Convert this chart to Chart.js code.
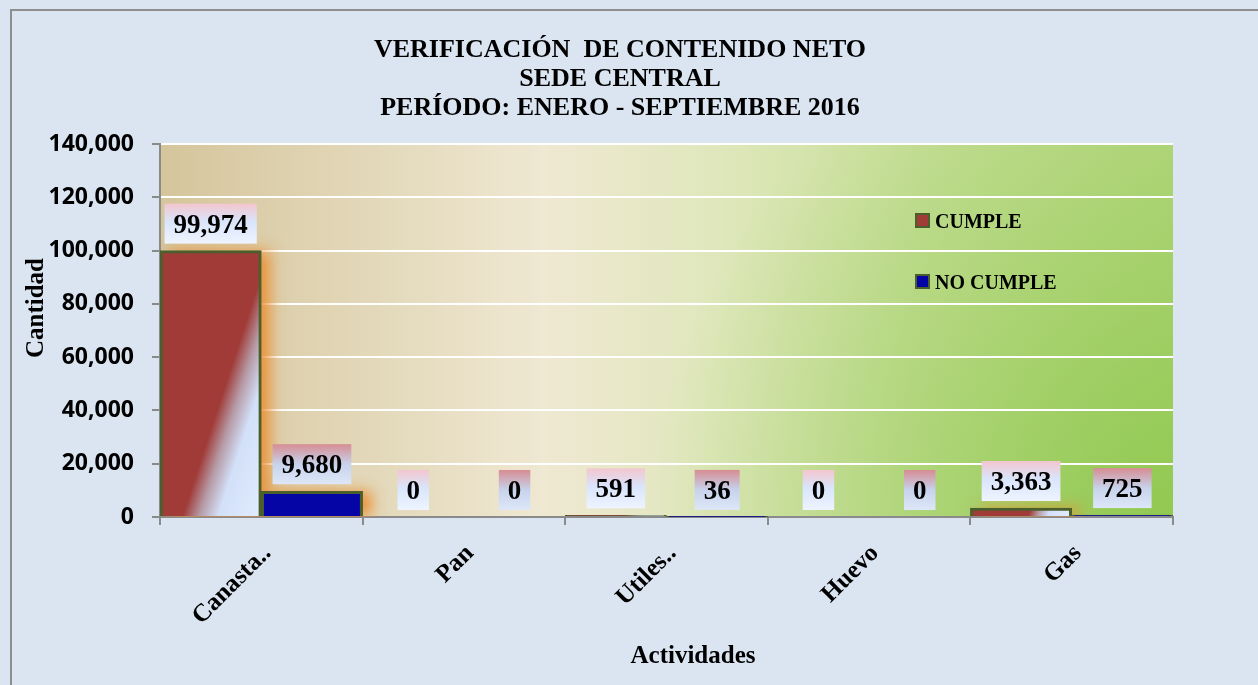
<!DOCTYPE html>
<html>
<head>
<meta charset="utf-8">
<script src="https://cdn.jsdelivr.net/npm/chart.js@4.4.1/dist/chart.umd.min.js"></script>
<style>
  html, body { margin: 0; padding: 0; background: #dbe5f1; }
  canvas { display: block; }
</style>
</head>
<body>
<canvas id="netChart" width="1258" height="685"></canvas>
<script>
const categories = ['Canasta..', 'Pan', 'Utiles..', 'Huevo', 'Gas'];
const cumpleValues = [99974, 0, 591, 0, 3363];
const noCumpleValues = [9680, 0, 36, 0, 725];
const seriesNames = ['CUMPLE', 'NO CUMPLE'];
const titleLines = ['VERIFICACIÓN  DE CONTENIDO NETO', 'SEDE CENTRAL', 'PERÍODO: ENERO - SEPTIEMBRE 2016'];
const yTitle = 'Cantidad';
const xTitle = 'Actividades';
const yMax = 140000;
const yStep = 20000;

const SERIF = "'Liberation Serif', 'Times New Roman', serif";
const SANS = "'Open Sans', 'Liberation Sans', sans-serif";
const RED = '#a03b37';
const BLUE = '#0505a5';
const EDGE = '#4b5f2c';

// red bars fade from red to light blue along a slanted direction
function barGradient(c, left, top, w, h) {
    const dx = 0.95, dy = 0.31;
    const len = w * dx + h * dy;
    const g = c.createLinearGradient(left, top, left + dx * len, top + dy * len);
    g.addColorStop(0, RED);
    g.addColorStop(0.58, RED);
    g.addColorStop(0.67, '#b69aa6');
    g.addColorStop(0.77, '#d2e0f8');
    g.addColorStop(1, '#e2ecff');
    return g;
}

function cumpleFill(ctx) {
    const chart = ctx.chart;
    const xs = chart.scales.x;
    const ys = chart.scales.y;
    if (ctx.type !== 'data' || !xs || !ys) return RED;
    const step = xs.getPixelForValue(1) - xs.getPixelForValue(0);
    const left = xs.getPixelForValue(ctx.dataIndex) - step / 2;
    const top = ys.getPixelForValue(ctx.raw);
    const bottom = ys.getPixelForValue(0);
    if (![step, left, top, bottom].every(Number.isFinite) || step <= 0) return RED;
    return barGradient(chart.ctx, left, top, step / 2, Math.max(bottom - top, 1));
}

const backdrop = {
    id: 'backdrop',
    beforeDraw(chart) {
        const c = chart.ctx;
        const a = chart.chartArea;
        c.save();
        c.fillStyle = '#dbe5f1';
        c.fillRect(0, 0, chart.width, chart.height);
        c.strokeStyle = '#8e8e8e';
        c.lineWidth = 2;
        c.beginPath();
        c.moveTo(11, chart.height);
        c.lineTo(11, 10);
        c.lineTo(chart.width, 10);
        c.stroke();

        const g = c.createLinearGradient(a.left, 0, a.right, 0);
        g.addColorStop(0, '#d5c59c');
        g.addColorStop(0.2, '#e2d7b8');
        g.addColorStop(0.38, '#efe8d2');
        g.addColorStop(0.55, '#dfe7bb');
        g.addColorStop(0.75, '#c8df9a');
        g.addColorStop(1, '#b8d884');
        c.fillStyle = g;
        c.fillRect(a.left, a.top, a.width, a.height);
        const r = c.createRadialGradient(a.right, a.bottom, 0, a.right, a.bottom, 520);
        r.addColorStop(0, 'rgba(132,196,64,0.75)');
        r.addColorStop(1, 'rgba(132,196,64,0)');
        c.fillStyle = r;
        c.fillRect(a.left, a.top, a.width, a.height);
        c.restore();
    }
};

// orange glow to the right of the bars, kept inside the plot
const barGlow = {
    id: 'barGlow',
    beforeDatasetsDraw(chart) {
        const c = chart.ctx;
        const a = chart.chartArea;
        c.save();
        c.beginPath();
        c.rect(a.left, a.top, a.width, a.height);
        c.clip();
        c.shadowColor = 'rgba(235,140,45,0.9)';
        c.shadowBlur = 14;
        c.shadowOffsetX = 9;
        c.shadowOffsetY = 0;
        c.fillStyle = '#c88a50';
        chart.data.datasets.forEach((ds, d) => {
            chart.getDatasetMeta(d).data.forEach(el => {
                const h = el.base - el.y;
                if (!(h >= 1)) return;
                c.fillRect(el.x - el.width / 2, el.y, el.width, h);
            });
        });
        c.restore();
    }
};

const valueBoxes = {
    id: 'valueBoxes',
    afterDatasetsDraw(chart) {
        const c = chart.ctx;
        c.save();
        c.font = 'bold 27px ' + SERIF;
        c.textAlign = 'center';
        c.textBaseline = 'alphabetic';
        chart.data.datasets.forEach((ds, d) => {
            chart.getDatasetMeta(d).data.forEach((el, i) => {
                if (!Number.isFinite(el.y)) return;
                const text = ds.data[i].toLocaleString('en-US');
                const w = c.measureText(text).width + 18;
                const h = 40;
                const bottom = el.y - 7;
                const top = bottom - h;
                const left = el.x - w / 2;
                const g = c.createLinearGradient(0, top, 0, bottom);
                if (d === 0) {
                    g.addColorStop(0, '#f3c6cf');
                    g.addColorStop(0.45, '#d9e5fb');
                    g.addColorStop(1, '#eef4ff');
                } else {
                    g.addColorStop(0, '#d68d93');
                    g.addColorStop(0.5, '#c7d3ec');
                    g.addColorStop(1, '#dde7f8');
                }
                c.fillStyle = g;
                c.fillRect(left, top, w, h);
                c.fillStyle = '#000';
                c.fillText(text, el.x, top + h / 2 + 9);
            });
        });
        c.restore();
    }
};

const captions = {
    id: 'captions',
    afterDraw(chart) {
        const c = chart.ctx;
        c.save();
        c.fillStyle = '#000';
        c.textAlign = 'center';
        c.textBaseline = 'alphabetic';
        c.font = 'bold 26px ' + SERIF;
        titleLines.forEach((line, k) => c.fillText(line, 620, 57 + k * 29));

        c.font = 'bold 25px ' + SERIF;
        c.fillText(xTitle, 693, 663);
        c.translate(43, 308);
        c.rotate(-Math.PI / 2);
        c.fillText(yTitle, 0, 0);
        c.restore();

        // legend inside the plot
        c.save();
        c.font = 'bold 20px ' + SERIF;
        c.textAlign = 'left';
        c.textBaseline = 'alphabetic';
        const colors = [RED, BLUE];
        const rows = [213, 274];
        seriesNames.forEach((name, k) => {
            c.fillStyle = EDGE;
            c.fillRect(915, rows[k], 15, 15);
            c.fillStyle = colors[k];
            c.fillRect(917, rows[k] + 2, 11, 11);
            c.fillStyle = '#000';
            c.fillText(name, 935, rows[k] + 15);
        });
        c.restore();
    }
};

const ctx = document.getElementById('netChart').getContext('2d');
const netChart = new Chart(ctx, {
    type: 'bar',
    data: {
        labels: categories,
        datasets: [{
            label: seriesNames[0],
            data: cumpleValues,
            backgroundColor: cumpleFill,
            borderColor: EDGE,
            borderWidth: 3,
            barPercentage: 1,
            categoryPercentage: 1
        }, {
            label: seriesNames[1],
            data: noCumpleValues,
            backgroundColor: BLUE,
            borderColor: EDGE,
            borderWidth: 3,
            barPercentage: 1,
            categoryPercentage: 1
        }]
    },
    options: {
        responsive: false,
        animation: false,
        layout: { padding: { left: 0, top: 144, right: 85, bottom: 0 } },
        plugins: {
            legend: { display: false },
            title: { display: false },
            tooltip: { enabled: false }
        },
        scales: {
            x: {
                grid: { display: true, drawOnChartArea: false, color: '#8a8a8a', lineWidth: 2, tickLength: 8, offset: true },
                border: { color: '#8a8a8a', width: 2 },
                ticks: {
                    color: '#000',
                    autoSkip: false,
                    minRotation: 45,
                    maxRotation: 45,
                    padding: 14,
                    labelOffset: 6,
                    font: { family: SERIF, size: 25, weight: 'bold' }
                },
                afterFit(scale) { scale.height = 168; }
            },
            y: {
                min: 0,
                max: yMax,
                grid: { color: '#ffffff', lineWidth: 2, tickColor: '#8a8a8a', tickLength: 8 },
                border: { color: '#8a8a8a', width: 2 },
                ticks: {
                    stepSize: yStep,
                    padding: 18,
                    color: '#000',
                    font: { family: SANS, size: 23, weight: 'bold' },
                    callback: v => v.toLocaleString('en-US')
                },
                afterFit(scale) { scale.width = 160; }
            }
        }
    },
    plugins: [backdrop, barGlow, valueBoxes, captions]
});
</script>
</body>
</html>
